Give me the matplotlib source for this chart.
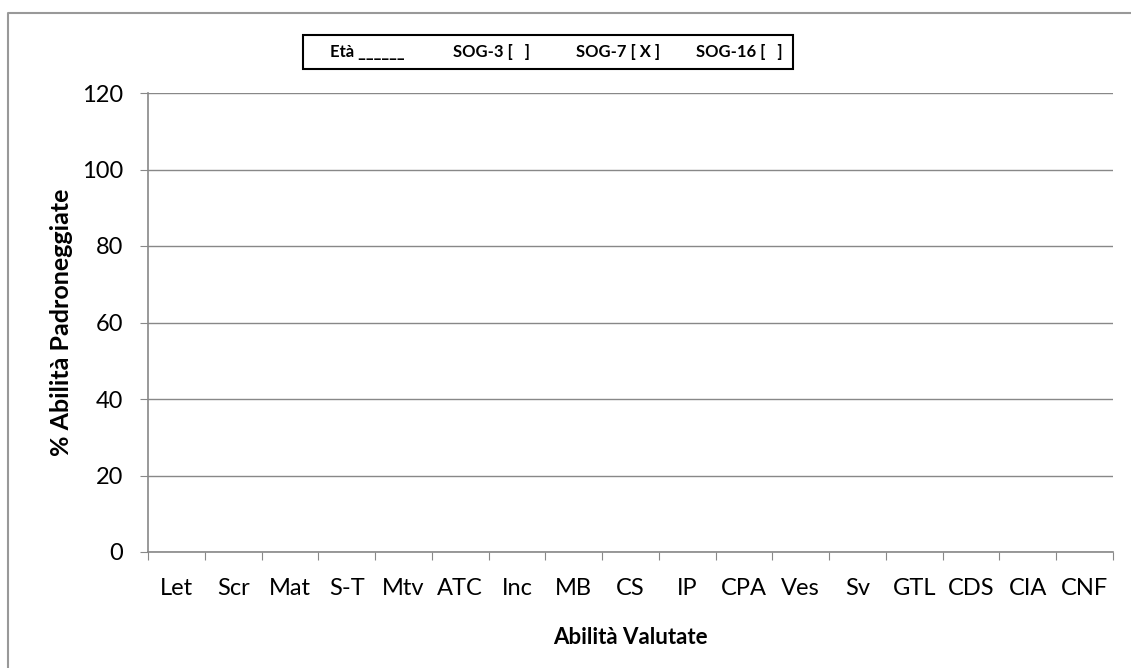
"""Empty SOG skills chart (template)."""

import matplotlib
matplotlib.use("Agg")
from matplotlib import pyplot as plt
from matplotlib.patches import Rectangle
from matplotlib.lines import Line2D

categories = ["Let", "Scr", "Mat", "S-T", "Mtv", "ATC", "Inc", "MB", "CS",
              "IP", "CPA", "Ves", "Sv", "GTL", "CDS", "CIA", "CNF"]
y_ticks = [0, 20, 40, 60, 80, 100, 120]
header = ["Età ______", "SOG-3 [   ]", "SOG-7 [ X ]", "SOG-16 [   ]"]

plt.rcParams["font.family"] = ["Lato", "DejaVu Sans"]
GRAY = "#888888"

W, H = 1131, 668
fig = plt.figure(figsize=(W / 100, H / 100), dpi=100)
ax = fig.add_axes([148 / W, 1 - 552 / H, (1113 - 148) / W, (552 - 93) / H])

n = len(categories)
ax.set_xlim(0, n)
ax.set_ylim(0, 120)
ax.set_yticks(y_ticks)
ax.yaxis.grid(True, color=GRAY, linewidth=1)
ax.set_axisbelow(True)

# ticks at category boundaries, labels centred
ax.set_xticks(range(n + 1))
ax.set_xticklabels([])
ax.set_xticks([i + 0.5 for i in range(n)], minor=True)
ax.set_xticklabels(categories, minor=True, fontsize=17)
ax.tick_params(axis="x", which="major", length=6, color=GRAY, direction="out")
ax.tick_params(axis="x", which="minor", length=0, pad=19)
ax.tick_params(axis="y", length=6, color=GRAY, labelsize=17, pad=12)

for side in ("top", "right"):
    ax.spines[side].set_visible(False)
for side in ("left", "bottom"):
    ax.spines[side].set_color(GRAY)
    ax.spines[side].set_linewidth(1.2)

ax.set_ylabel("% Abilità Padroneggiate", fontsize=18, fontweight="bold", labelpad=6)
ax.set_xlabel("Abilità Valutate", fontsize=16, fontweight="bold", labelpad=20)

# header box
fig.patches.append(Rectangle((303 / W, 1 - 69 / H), (793 - 303) / W, 34 / H,
                             transform=fig.transFigure, fill=False,
                             edgecolor="black", linewidth=1.5))
for txt, x in zip(header, (330, 453, 576, 696)):
    fig.text(x / W, 1 - 52 / H, txt, fontsize=12, fontweight="bold",
             va="center", ha="left")

# chart area frame (left and top visible)
fig.lines.append(Line2D([8 / W, 8 / W, 1], [0, 1 - 13 / H, 1 - 13 / H],
                        transform=fig.transFigure, color="#999999", linewidth=1.5))

fig.savefig("out.png", dpi=100)
